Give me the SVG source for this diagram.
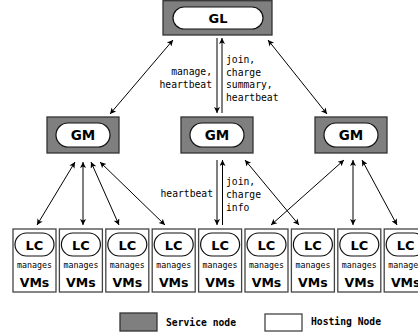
<svg xmlns="http://www.w3.org/2000/svg" width="418" height="334" viewBox="0 0 418 334">
<style>
.svc{fill:#7f7f7f;stroke:#333;stroke-width:1.3}
.host{fill:#fff;stroke:#444;stroke-width:1.3}
.pill{fill:#fff;stroke:#111;stroke-width:1.2}
.big{font-family:"DejaVu Sans",Verdana,sans-serif;font-weight:bold;text-anchor:middle;fill:#000}
.mono{font-family:"DejaVu Sans Mono","Liberation Mono",monospace;font-size:9.7px;fill:#000}
.small{font-family:"DejaVu Sans Mono","Liberation Mono",monospace;font-size:8.3px;text-anchor:middle;fill:#000}
.lnk{stroke:#000;stroke-width:1;fill:none}
.b{marker-start:url(#ah);marker-end:url(#ah)}
.e{marker-end:url(#ah)}
</style>
<defs>
<marker id="ah" viewBox="0 0 10 10" refX="10" refY="5" markerWidth="8" markerHeight="6" markerUnits="userSpaceOnUse" orient="auto-start-reverse">
<path d="M0,0 L10,5 L0,10 L2.5,5 z" fill="#000"/>
</marker>
</defs>
<rect width="418" height="334" fill="#fff"/>

<g id="GL">
<rect class="svc" x="163" y="0.7" width="109" height="34.3"/>
<rect class="pill" x="173" y="7" width="90" height="22" rx="11"/>
<text class="big" x="218" y="23" font-size="13">GL</text>
</g>

<g id="GM1">
<rect class="svc" x="47" y="117" width="72" height="36"/>
<rect class="pill" x="56" y="123" width="54" height="24" rx="12"/>
<text class="big" x="83" y="140" font-size="13.5">GM</text>
</g>
<g id="GM2">
<rect class="svc" x="181" y="117" width="72" height="36"/>
<rect class="pill" x="190" y="123" width="54" height="24" rx="12"/>
<text class="big" x="217" y="140" font-size="13.5">GM</text>
</g>
<g id="GM3">
<rect class="svc" x="315" y="117" width="72" height="36"/>
<rect class="pill" x="324" y="123" width="54" height="24" rx="12"/>
<text class="big" x="351" y="140" font-size="13.5">GM</text>
</g>

<g id="LC1"><rect class="host" x="13" y="229" width="43" height="63"/><rect class="pill" x="15" y="233" width="39" height="23" rx="11.5"/><text class="big" x="34.5" y="249.5" font-size="13">LC</text><text class="small" x="34.5" y="268">manages</text><text class="big" x="34.5" y="287" font-size="12.5">VMs</text></g>
<g id="LC2"><rect class="host" x="59.4" y="229" width="43" height="63"/><rect class="pill" x="61.4" y="233" width="39" height="23" rx="11.5"/><text class="big" x="80.9" y="249.5" font-size="13">LC</text><text class="small" x="80.9" y="268">manages</text><text class="big" x="80.9" y="287" font-size="12.5">VMs</text></g>
<g id="LC3"><rect class="host" x="105.8" y="229" width="43" height="63"/><rect class="pill" x="107.8" y="233" width="39" height="23" rx="11.5"/><text class="big" x="127.3" y="249.5" font-size="13">LC</text><text class="small" x="127.3" y="268">manages</text><text class="big" x="127.3" y="287" font-size="12.5">VMs</text></g>
<g id="LC4"><rect class="host" x="152.2" y="229" width="43" height="63"/><rect class="pill" x="154.2" y="233" width="39" height="23" rx="11.5"/><text class="big" x="173.7" y="249.5" font-size="13">LC</text><text class="small" x="173.7" y="268">manages</text><text class="big" x="173.7" y="287" font-size="12.5">VMs</text></g>
<g id="LC5"><rect class="host" x="198.6" y="229" width="43" height="63"/><rect class="pill" x="200.6" y="233" width="39" height="23" rx="11.5"/><text class="big" x="220.1" y="249.5" font-size="13">LC</text><text class="small" x="220.1" y="268">manages</text><text class="big" x="220.1" y="287" font-size="12.5">VMs</text></g>
<g id="LC6"><rect class="host" x="245" y="229" width="43" height="63"/><rect class="pill" x="247" y="233" width="39" height="23" rx="11.5"/><text class="big" x="266.5" y="249.5" font-size="13">LC</text><text class="small" x="266.5" y="268">manages</text><text class="big" x="266.5" y="287" font-size="12.5">VMs</text></g>
<g id="LC7"><rect class="host" x="291.4" y="229" width="43" height="63"/><rect class="pill" x="293.4" y="233" width="39" height="23" rx="11.5"/><text class="big" x="312.9" y="249.5" font-size="13">LC</text><text class="small" x="312.9" y="268">manages</text><text class="big" x="312.9" y="287" font-size="12.5">VMs</text></g>
<g id="LC8"><rect class="host" x="337.8" y="229" width="43" height="63"/><rect class="pill" x="339.8" y="233" width="39" height="23" rx="11.5"/><text class="big" x="359.3" y="249.5" font-size="13">LC</text><text class="small" x="359.3" y="268">manages</text><text class="big" x="359.3" y="287" font-size="12.5">VMs</text></g>
<g id="LC9"><rect class="host" x="384.2" y="229" width="43" height="63"/><rect class="pill" x="386.2" y="233" width="39" height="23" rx="11.5"/><text class="big" x="405.7" y="249.5" font-size="13">LC</text><text class="small" x="405.7" y="268">manages</text><text class="big" x="405.7" y="287" font-size="12.5">VMs</text></g>

<g id="connectors">
<line class="lnk b" x1="110" y1="114" x2="173" y2="40"/>
<line class="lnk b" x1="268" y1="40" x2="327" y2="114"/>
<line class="lnk e" x1="217" y1="38" x2="217" y2="113"/>
<line class="lnk e" x1="222" y1="113" x2="222" y2="38"/>
<line class="lnk b" x1="75" y1="162" x2="37" y2="225"/>
<line class="lnk b" x1="83" y1="162" x2="83" y2="225"/>
<line class="lnk b" x1="91" y1="162" x2="119" y2="225"/>
<line class="lnk b" x1="100" y1="162" x2="165" y2="225"/>
<line class="lnk e" x1="217" y1="160" x2="217" y2="225"/>
<line class="lnk e" x1="222.5" y1="225" x2="222.5" y2="160"/>
<line class="lnk b" x1="245" y1="160" x2="299" y2="225"/>
<line class="lnk b" x1="344" y1="160" x2="271" y2="225"/>
<line class="lnk b" x1="353" y1="160" x2="353" y2="225"/>
<line class="lnk b" x1="362" y1="160" x2="397" y2="225"/>
</g>

<g id="labels">
<text class="mono" x="212" y="75" text-anchor="end">manage,</text>
<text class="mono" x="212" y="88" text-anchor="end">heartbeat</text>
<text class="mono" x="226" y="63">join,</text>
<text class="mono" x="226" y="75.5">charge</text>
<text class="mono" x="226" y="88">summary,</text>
<text class="mono" x="226" y="100.5">heartbeat</text>
<text class="mono" x="213" y="197" text-anchor="end">heartbeat</text>
<text class="mono" x="226" y="185">join,</text>
<text class="mono" x="226" y="198">charge</text>
<text class="mono" x="226" y="211">info</text>
</g>

<g id="legend">
<rect class="svc" x="120" y="313" width="37" height="18"/>
<text class="mono" x="166" y="326" font-weight="bold">Service node</text>
<rect class="host" x="265" y="314" width="37" height="17"/>
<text class="mono" x="311" y="325" font-weight="bold">Hosting Node</text>
</g>
</svg>
